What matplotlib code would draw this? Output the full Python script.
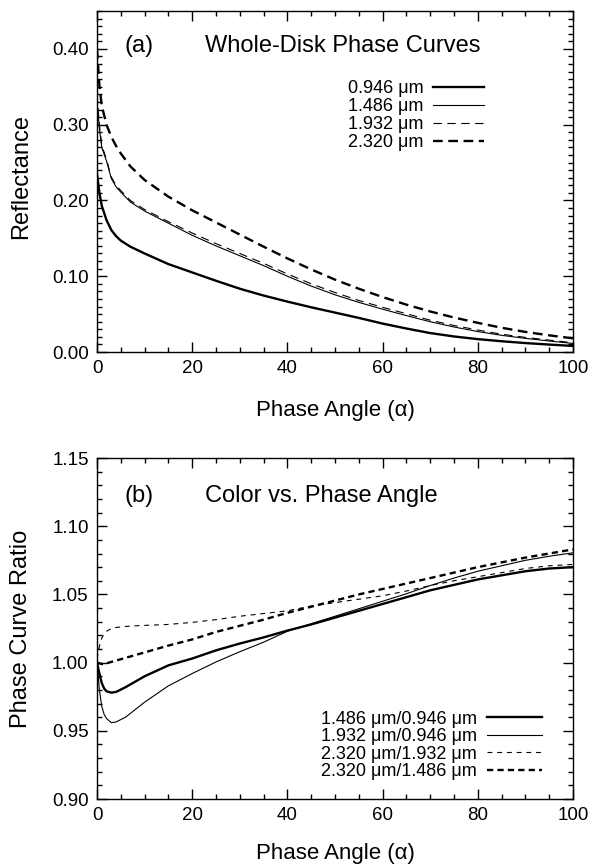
import matplotlib
matplotlib.use("Agg")
import matplotlib.pyplot as plt
from matplotlib.ticker import MultipleLocator, FormatStrFormatter

plt.rcParams['font.family'] = ['Liberation Sans', 'DejaVu Sans']
plt.rcParams['lines.scale_dashes'] = False

# (a) whole-disk phase curves
alpha_a = [0, 0.5, 1, 2, 3, 4, 5, 7, 10,
           15, 20, 25, 30, 35, 40, 45, 50, 55, 60, 65, 70, 75, 80, 85, 90, 95, 100]
refl_0946 = [0.235, 0.210, 0.193, 0.174, 0.161, 0.153, 0.147, 0.139, 0.130,
             0.116, 0.105, 0.094, 0.0835, 0.0745, 0.0665, 0.059, 0.052, 0.045, 0.0375,
             0.031, 0.025, 0.0205, 0.017, 0.0142, 0.0118, 0.0098, 0.008]
refl_1486 = [0.330, 0.295, 0.270, 0.252, 0.229, 0.218, 0.211, 0.198, 0.186,
             0.170, 0.154, 0.140, 0.127, 0.114, 0.100, 0.087, 0.0755, 0.0655, 0.0565,
             0.048, 0.040, 0.033, 0.027, 0.022, 0.018, 0.0145, 0.0113]
refl_1932 = [0.340, 0.300, 0.273, 0.254, 0.231, 0.220, 0.213, 0.200, 0.188,
             0.172, 0.157, 0.143, 0.130, 0.117, 0.103, 0.090, 0.0785, 0.068, 0.059,
             0.0505, 0.042, 0.035, 0.029, 0.0235, 0.0193, 0.0157, 0.0123]
refl_2320 = [0.400, 0.352, 0.325, 0.300, 0.284, 0.272, 0.262, 0.245, 0.227,
             0.205, 0.187, 0.171, 0.155, 0.139, 0.1235, 0.109, 0.0955, 0.0835, 0.0725,
             0.0625, 0.0535, 0.0455, 0.0385, 0.032, 0.0265, 0.022, 0.018]

# (b) colour ratios
alpha_b = [0, 0.5, 1, 1.5, 2, 3, 4, 6, 8, 10, 15,
           20, 25, 30, 35, 40, 45, 50, 55, 60, 65, 70, 75, 80, 85, 90, 95, 100]
ratio_1486_0946 = [1.000, 0.992, 0.985, 0.981, 0.979, 0.978, 0.9785, 0.982, 0.986, 0.990, 0.998,
                   1.003, 1.009, 1.014, 1.0185, 1.0235, 1.028, 1.033, 1.038, 1.043, 1.048,
                   1.053, 1.057, 1.061, 1.064, 1.067, 1.069, 1.070]
ratio_1932_0946 = [1.000, 0.980, 0.968, 0.962, 0.959, 0.956, 0.9565, 0.960, 0.9655, 0.971, 0.983,
                   0.992, 1.0005, 1.008, 1.015, 1.023, 1.0285, 1.034, 1.0395, 1.045, 1.0505,
                   1.0565, 1.062, 1.067, 1.071, 1.075, 1.078, 1.0805]
ratio_2320_1932 = [1.003, 1.012, 1.018, 1.021, 1.023, 1.025, 1.0258, 1.0265, 1.027, 1.0273, 1.028,
                   1.0295, 1.0315, 1.034, 1.036, 1.038, 1.0415, 1.044, 1.0465, 1.049, 1.0525,
                   1.0565, 1.060, 1.063, 1.066, 1.069, 1.071, 1.072]
ratio_2320_1486 = [1.000, 0.9995, 0.999, 0.999, 0.9995, 1.0005, 1.0015, 1.0035, 1.0055, 1.0075, 1.0125,
                   1.017, 1.0225, 1.027, 1.0315, 1.0365, 1.041, 1.0455, 1.050, 1.054, 1.058,
                   1.062, 1.066, 1.070, 1.0735, 1.077, 1.080, 1.083]

labels_a = ["0.946 \u03bcm", "1.486 \u03bcm", "1.932 \u03bcm", "2.320 \u03bcm"]
labels_b = ["1.486 \u03bcm/0.946 \u03bcm", "1.932 \u03bcm/0.946 \u03bcm",
            "2.320 \u03bcm/1.932 \u03bcm", "2.320 \u03bcm/1.486 \u03bcm"]

fig = plt.figure(figsize=(5.89, 8.67), dpi=100)
ax1 = fig.add_axes([0.1647, 0.594, 0.8081, 0.3933])
ax2 = fig.add_axes([0.1647, 0.0784, 0.8081, 0.3933])


def style_axes(ax, ymin, ymax, ymaj):
    ax.set_xlim(0, 100)
    ax.set_ylim(ymin, ymax)
    ax.xaxis.set_major_locator(MultipleLocator(20))
    ax.xaxis.set_minor_locator(MultipleLocator(5))
    ax.yaxis.set_major_locator(MultipleLocator(ymaj))
    ax.yaxis.set_minor_locator(MultipleLocator(0.01))
    ax.yaxis.set_major_formatter(FormatStrFormatter('%.2f'))
    ax.tick_params(which='both', direction='in', top=True, right=True,
                   labelsize=13.5, width=1)
    ax.tick_params(which='major', length=7, pad=6)
    ax.tick_params(which='minor', length=3.5)
    for s in ax.spines.values():
        s.set_linewidth(1)


# panel a
ax1.plot(alpha_a, refl_0946, color='k', lw=1.7, label=labels_a[0])
ax1.plot(alpha_a, refl_1486, color='k', lw=0.8, label=labels_a[1])
ax1.plot(alpha_a, refl_1932, color='k', lw=0.8, dashes=(6, 4), label=labels_a[2])
ax1.plot(alpha_a, refl_2320, color='k', lw=1.7, dashes=(7, 4), label=labels_a[3])
style_axes(ax1, 0, 0.45, 0.1)
ax1.set_xlabel('Phase Angle (\u03b1)', fontsize=16)
ax1.xaxis.set_label_coords(0.5, -0.14)
ax1.set_ylabel('Reflectance', fontsize=17)
ax1.yaxis.set_label_coords(-0.136, 0.516)
ax1.text(0.057, 0.897, '(a)', transform=ax1.transAxes, fontsize=17, va='center')
ax1.text(0.227, 0.897, 'Whole-Disk Phase Curves', transform=ax1.transAxes,
         fontsize=17, va='center')
ax1.legend(loc='upper right', bbox_to_anchor=(0.813, 0.797), frameon=False,
           markerfirst=False, fontsize=13, handlelength=2.82, handletextpad=0.55,
           labelspacing=0.06, borderpad=0, borderaxespad=0)

# panel b
ax2.plot(alpha_b, ratio_1486_0946, color='k', lw=1.7, label=labels_b[0])
ax2.plot(alpha_b, ratio_1932_0946, color='k', lw=0.8, label=labels_b[1])
ax2.plot(alpha_b, ratio_2320_1932, color='k', lw=0.8, dashes=(3.5, 3.5), label=labels_b[2])
ax2.plot(alpha_b, ratio_2320_1486, color='k', lw=1.7, dashes=(4.5, 3), label=labels_b[3])
style_axes(ax2, 0.90, 1.15, 0.05)
ax2.set_xlabel('Phase Angle (\u03b1)', fontsize=16)
ax2.xaxis.set_label_coords(0.5, -0.13)
ax2.set_ylabel('Phase Curve Ratio', fontsize=17)
ax2.yaxis.set_label_coords(-0.136, 0.5)
ax2.text(0.057, 0.888, '(b)', transform=ax2.transAxes, fontsize=17, va='center')
ax2.text(0.227, 0.888, 'Color vs. Phase Angle', transform=ax2.transAxes,
         fontsize=17, va='center')
ax2.legend(loc='upper right', bbox_to_anchor=(0.935, 0.259), frameon=False,
           markerfirst=False, fontsize=13, handlelength=3.05, handletextpad=0.55,
           labelspacing=0.03, borderpad=0, borderaxespad=0)

fig.savefig('out.png', dpi=100)
